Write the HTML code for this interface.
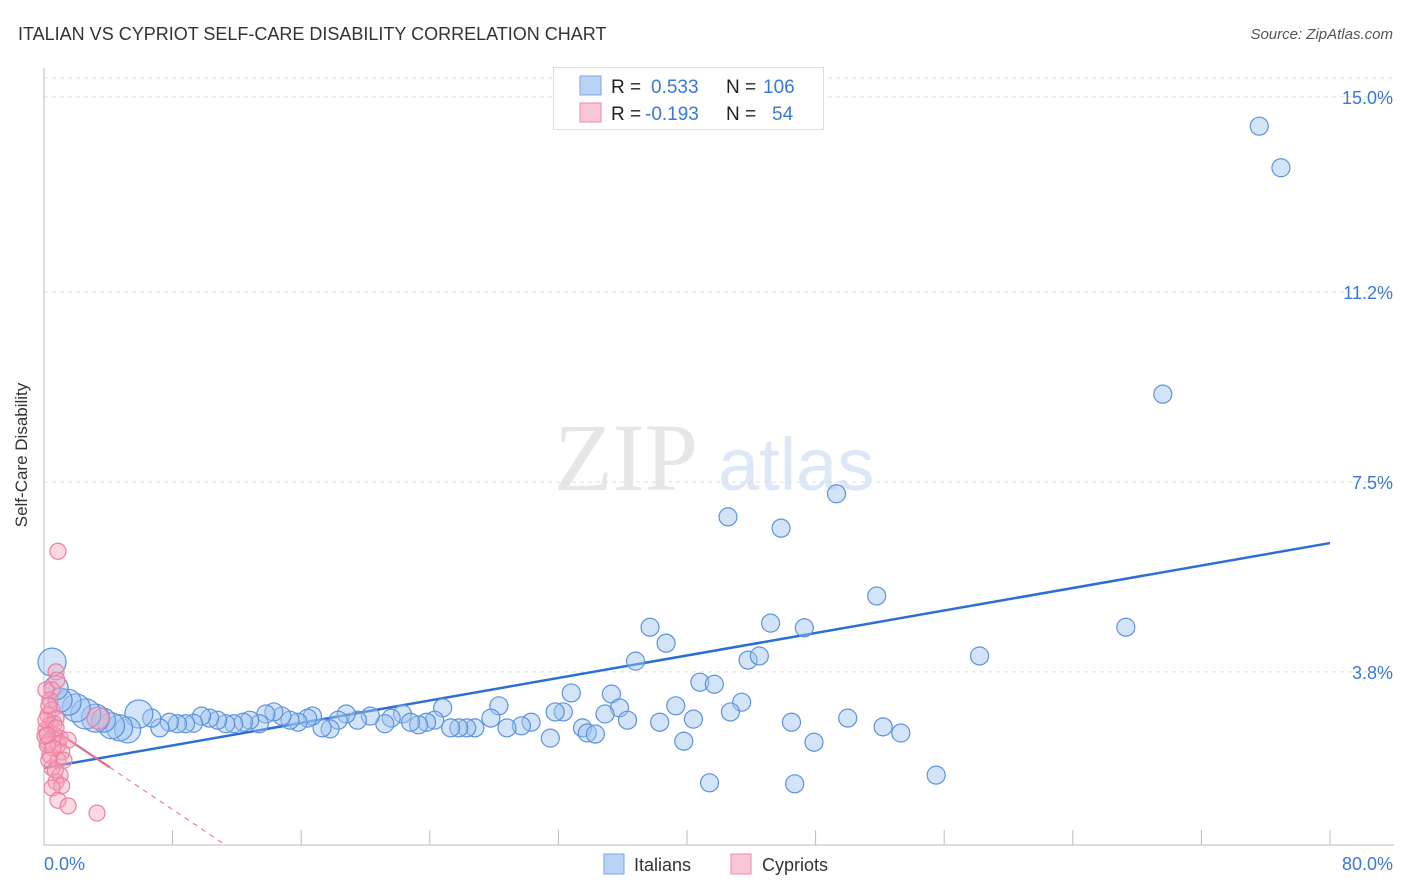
<!DOCTYPE html>
<html><head><meta charset="utf-8">
<style>
body{margin:0;background:#fff;width:1406px;height:892px;overflow:hidden;font-family:"Liberation Sans",sans-serif;}
svg{position:absolute;left:0;top:0;}
</style></head>
<body>
<svg id="chart" width="1406" height="892">
<text x="18" y="40" font-size="18" fill="#333">ITALIAN VS CYPRIOT SELF-CARE DISABILITY CORRELATION CHART</text>
<text x="1393" y="39" font-size="15" fill="#555" font-style="italic" text-anchor="end">Source: ZipAtlas.com</text>
<g>
<text x="554" y="490" font-size="96" font-family="Liberation Serif,serif" fill="#e6e6e6">ZIP</text>
<text x="718" y="490" font-size="74" fill="#dde8f7">atlas</text>
</g>
<g id="grid"></g>
<g id="axes"></g>
<g id="lines"></g>
<g id="pts"></g>
<text x="27" y="455" font-size="17" fill="#333" text-anchor="middle" transform="rotate(-90 27 455)">Self-Care Disability</text>
<text x="44" y="870" font-size="18" fill="#3a78d8">0.0%</text>
<text x="1393" y="870" font-size="18" fill="#3a78d8" text-anchor="end">80.0%</text>
<g>
<rect x="553.5" y="67.5" width="270" height="62" fill="#fff" stroke="#ddd"/>
<rect x="580" y="76" width="21" height="19" fill="#b9d3f5" stroke="#7aa6e6"/>
<rect x="580" y="103" width="21" height="19" fill="#f9c6d5" stroke="#f08aa8"/>
<text x="611" y="93" font-size="19" fill="#222">R = </text><text x="651" y="93" font-size="19" fill="#3a78d8">0.533</text>
<text x="726" y="93" font-size="19" fill="#222">N = </text><text x="763" y="93" font-size="19" fill="#3a78d8">106</text>
<text x="611" y="120" font-size="19" fill="#222">R = </text><text x="645" y="120" font-size="19" fill="#3a78d8">-0.193</text>
<text x="726" y="120" font-size="19" fill="#222">N = </text><text x="772" y="120" font-size="19" fill="#3a78d8">54</text>
</g>
<g>
<rect x="604" y="854" width="20" height="20" fill="#b9d3f5" stroke="#7aa6e6"/>
<text x="634" y="871" font-size="18" fill="#333">Italians</text>
<rect x="731" y="854" width="20" height="20" fill="#f9c6d5" stroke="#f08aa8"/>
<text x="762" y="871" font-size="18" fill="#333">Cypriots</text>
</g>
</svg>
<script>
const yTicks=[15.0,11.2,7.5,3.8];
const yTickLabels=["15.0%","11.2%","7.5%","3.8%"];
const xTicks=[0,8,16,24,32,40,48,56,64,72,80];
const blueX=[75.6,76.95,69.6,49.3,42.55,45.85,51.8,45.2,37.7,47.3,67.3,38.7,36.8,43.8,44.5,58.2,40.8,41.7,32.8,35.3,28.3,43.4,39.3,35.8,32.3,31.8,34.9,42.7,24.8,22.3,40.4,36.3,38.3,46.5,50.0,52.2,53.3,33.5,33.8,34.3,31.5,39.8,47.9,55.5,41.4,46.7,30.3,29.7,28.8,27.8,26.8,26.3,25.8,25.3,24.3,23.8,23.3,22.8,21.6,21.2,20.3,19.5,18.8,18.3,17.8,17.3,16.7,16.4,15.8,15.3,14.8,14.3,13.8,13.4,12.8,12.4,11.8,11.3,10.8,10.3,9.8,9.3,8.8,8.3,7.8,7.2,6.7,5.9,5.2,4.7,4.2,3.7,3.2,2.6,2.0,1.5,1.0,0.5,0.75];
const blueY=[14.43,13.62,9.21,7.27,6.82,6.60,5.28,4.75,4.67,4.66,4.67,4.36,4.01,4.03,4.11,4.11,3.60,3.56,3.39,3.37,3.14,3.21,3.14,3.10,3.02,3.02,2.98,3.02,3.10,2.98,2.88,2.86,2.82,2.82,2.90,2.73,2.61,2.71,2.61,2.59,2.51,2.45,2.43,1.79,1.64,1.62,2.82,2.75,2.71,2.90,2.71,2.71,2.71,2.71,2.86,2.82,2.77,2.82,2.90,2.79,2.94,2.86,2.98,2.86,2.69,2.71,2.94,2.90,2.82,2.86,2.94,3.02,2.98,2.79,2.86,2.82,2.79,2.79,2.86,2.90,2.94,2.80,2.79,2.79,2.82,2.71,2.90,2.98,2.67,2.71,2.75,2.86,2.90,2.98,3.10,3.21,3.25,3.99,3.49];
const blueSize=[9,9,9,9,9,9,9,9,9,9,9,9,9,9,9,9,9,9,9,9,9,9,9,9,9,9,9,9,9,9,9,9,9,9,9,9,9,9,9,9,9,9,9,9,9,9,9,9,9,9,9,9,9,9,9,9,9,9,9,9,9,9,9,9,9,9,9,9,9,9,9,9,9,9,9,9,9,9,9,9,9,9,9,9,9,9,9,14,13,13,13,12,14,15,14,13,12,14,12];
const pinkX=[0.87,0.75,0.8,0.5,0.37,0.5,0.25,0.75,0.37,0.12,0.62,1.0,0.25,0.87,1.5,1.1,0.37,0.87,0.5,1.0,0.75,1.1,0.5,0.87,1.5,3.3,3.36,0.62,0.12,0.3,1.24,0.12,0.2,0.56,0.06,0.75,0.3,0.7,0.2];
const pinkY=[6.15,3.80,3.64,3.45,3.25,3.06,2.96,2.90,2.77,2.67,2.57,2.51,2.43,2.38,2.47,2.24,2.18,2.08,1.93,1.79,1.66,1.58,1.54,1.30,1.19,1.05,2.90,2.79,2.86,3.14,2.08,3.45,2.38,2.32,2.55,2.71,2.08,1.89,2.57];
const blueTrend=[1.93,6.31];
const pinkTrend=[2.80,-0.21];
const X=v=>44+v*16.075, Y=v=>867-v*51.34;
const NS="http://www.w3.org/2000/svg";
function mk(tag,parent,attrs){const e=document.createElementNS(NS,tag);for(const k in attrs)e.setAttribute(k,attrs[k]);parent.appendChild(e);return e;}
const grid=document.getElementById('grid'),axes=document.getElementById('axes'),lines=document.getElementById('lines'),pts=document.getElementById('pts');
let g=mk('line',grid,{x1:44,x2:1394,y1:78,y2:78,stroke:'#ddd','stroke-dasharray':'4,4'});


yTicks.forEach((t,i)=>{
 const l=mk('line',grid,{x1:44,x2:1394,y1:Y(t),y2:Y(t),stroke:'#ddd','stroke-dasharray':'4,4'});
 
 
 const tx=mk('text',grid,{x:1393,y:Y(t)+7,'font-size':18,fill:'#3a78d8','text-anchor':'end'});
 tx.textContent=yTickLabels[i];
 
 
});
let a=mk('line',axes,{x1:44,x2:44,y1:68,y2:845,stroke:'#bbb'});


a=mk('line',axes,{x1:44,x2:1394,y1:845,y2:845,stroke:'#bbb'});


xTicks.forEach(t=>{const l=mk('line',axes,{x1:X(t),x2:X(t),y1:830,y2:845,stroke:'#bbb'});
 
 });
blueX.forEach((x,i)=>{const c=mk('circle',pts,{cx:X(x),cy:Y(blueY[i]),r:blueSize[i],fill:'rgba(160,196,240,0.45)',stroke:'#5b93df','stroke-width':1.2});
 
 });
pinkX.forEach((x,i)=>{const c=mk('circle',pts,{cx:X(x),cy:Y(pinkY[i]),r:(i==26?11:8),fill:'rgba(245,160,185,0.4)',stroke:'#ee7f9f','stroke-width':1.2});
 
 });
let bl=mk('line',lines,{x1:X(0),y1:Y(blueTrend[0]),x2:X(80),y2:Y(blueTrend[1]),stroke:'#2b6fd6','stroke-width':2.5});


const pEnd=(0.43-pinkTrend[0])/pinkTrend[1];
let ps=mk('line',lines,{x1:X(0),y1:Y(pinkTrend[0]),x2:X(4.1),y2:Y(pinkTrend[0]+pinkTrend[1]*4.1),stroke:'#e8668c','stroke-width':2.2});


let pd=mk('line',lines,{x1:X(4.1),y1:Y(pinkTrend[0]+pinkTrend[1]*4.1),x2:X(pEnd),y2:Y(0.43),stroke:'#e8668c','stroke-width':1,'stroke-dasharray':'5,5'});


</script>
</body></html>
